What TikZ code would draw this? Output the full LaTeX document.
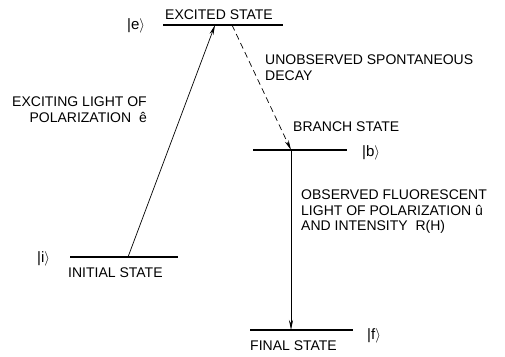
\documentclass[tikz,border=0pt]{standalone}
\usepackage{fontspec}
\setmainfont{Liberation Sans}
\usetikzlibrary{arrows.meta,positioning}

\begin{document}
\begin{tikzpicture}[
        x=1pt,y=-1pt,
        level/.style={line width=1.2pt},
        lbl/.style={font=\fontsize{14}{15.5}\selectfont,inner sep=0pt},
        ket/.style={lbl,anchor=base west,font=\fontsize{15}{15}\selectfont},
        note/.style={lbl,align=left,anchor=north west},
        arr/.style={-{Stealth[length=10pt,width=4pt]},line width=.7pt}
      ]
        \useasboundingbox (0,0) rectangle (505,356);
        % energy levels
        \coordinate (e1) at (163,25);  \coordinate (e2) at (283,25);
        \coordinate (i1) at (70,257);  \coordinate (i2) at (178,257);
        \coordinate (b1) at (253,150); \coordinate (b2) at (347,150);
        \coordinate (f1) at (250,330); \coordinate (f2) at (353,330);
        \draw[level] (e1) -- (e2);
        \draw[level] (i1) -- (i2);
        \draw[level] (b1) -- (b2);
        \draw[level] (f1) -- (f2);
        % arrow ends
        \coordinate (ein) at (215,25);
        \coordinate (eout) at (232,25);
        \coordinate (iout) at (128,257);
        \coordinate (bin) at (291,150);
        \coordinate (fin) at (291,330);
        \draw[arr] (iout) -- (ein);
        \draw[arr,dashed,dash pattern=on 6pt off 4pt] (eout) -- (bin);
        \draw[arr] (bin) -- (fin);
        % state names and kets
        \node[ket,lbl] (tex) at (165,19) {EXCITED STATE};
        \node[ket,lbl] (tin) at (68,277) {INITIAL STATE};
        \node[ket,lbl] (tbr) at (293,131.5) {BRANCH STATE};
        \node[ket,lbl] (tfi) at (250,350) {FINAL STATE};
        \node[ket] (ke) at (127,29) {\textbar e$\rangle$};
        \node[ket] (ki) at (37,262) {\textbar i$\rangle$};
        \node[ket] (kb) at (362,156) {\textbar b$\rangle$};
        \node[ket] (kf) at (367,339) {\textbar f$\rangle$};
        % transition labels
        \node[note] (decay) at (265,55) {UNOBSERVED SPONTANEOUS\\DECAY};
        \node[note] (fluor) at (301,190)
          {OBSERVED FLUORESCENT\\LIGHT OF POLARIZATION û\\AND INTENSITY\ \ R(H)};
        \node[note,align=right,anchor=north east] (excit) at (147,97)
          {EXCITING LIGHT OF\\POLARIZATION\ \ ê};
      \end{tikzpicture}
\end{document}
